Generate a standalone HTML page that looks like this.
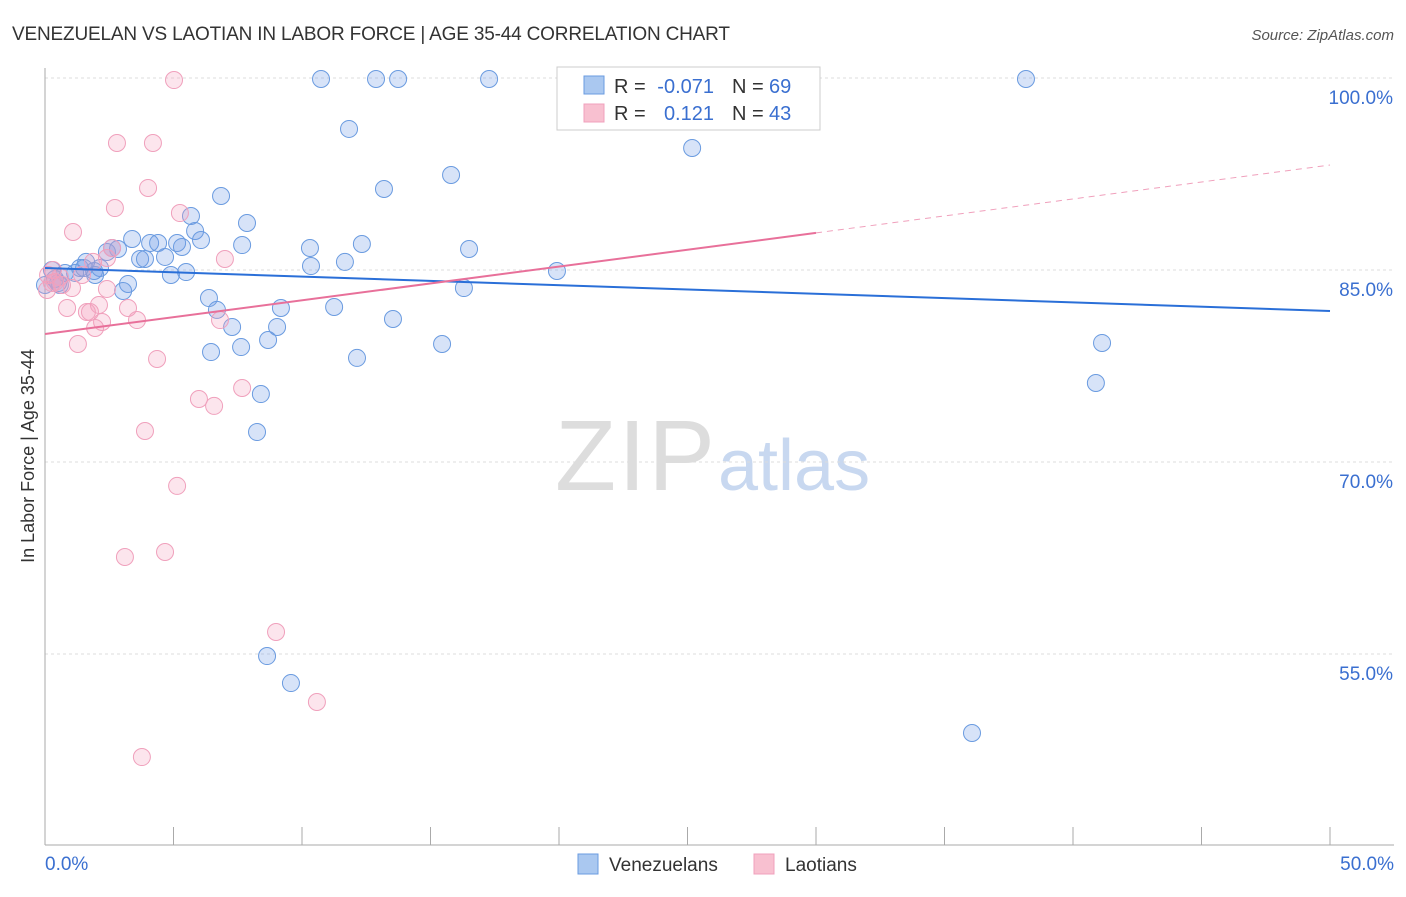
<!DOCTYPE html>
<html><head><meta charset="utf-8"><style>
body{margin:0;background:#fff;font-family:"Liberation Sans",sans-serif}
svg text{font-family:"Liberation Sans",sans-serif}
</style></head><body>
<svg width="1406" height="892">
<text x="12" y="40" font-size="19" fill="#333" textLength="718">VENEZUELAN VS LAOTIAN IN LABOR FORCE | AGE 35-44 CORRELATION CHART</text>
<text x="1394" y="40" font-size="15" fill="#555" font-style="italic" text-anchor="end">Source: ZipAtlas.com</text>
<text x="34" y="456" font-size="18" fill="#333" transform="rotate(-90 34 456)" text-anchor="middle">In Labor Force | Age 35-44</text>
<text x="555" y="490" font-size="100" fill="#ddd" textLength="160" font-family="Liberation Serif">ZIP</text>
<text x="718" y="490" font-size="72" fill="#c8d8f0">atlas</text>
<g id="grid"></g><g id="axes"></g><g id="marks"></g>
<g>
<rect x="557" y="67" width="263" height="63" fill="#fff" stroke="#ccc"/>
<rect x="584" y="76" width="20" height="18" fill="#aac8f0" stroke="#6a9be0"/>
<text x="614" y="93" font-size="20" fill="#333">R =</text>
<text x="714" y="93" font-size="20" fill="#3a6fd0" text-anchor="end">-0.071</text>
<text x="732" y="93" font-size="20" fill="#333">N =</text>
<text x="769" y="93" font-size="20" fill="#3a6fd0">69</text>
<rect x="584" y="104" width="20" height="18" fill="#f8c0d0" stroke="#f0a0bc"/>
<text x="614" y="120" font-size="20" fill="#333">R =</text>
<text x="714" y="120" font-size="20" fill="#3a6fd0" text-anchor="end">0.121</text>
<text x="732" y="120" font-size="20" fill="#333">N =</text>
<text x="769" y="120" font-size="20" fill="#3a6fd0">43</text>
</g>
<g>
<rect x="578" y="854" width="20" height="20" fill="#aac8f0" stroke="#6a9be0"/>
<text x="609" y="871" font-size="19" fill="#333">Venezuelans</text>
<rect x="754" y="854" width="20" height="20" fill="#f8c0d0" stroke="#f0a0bc"/>
<text x="785" y="871" font-size="19" fill="#333">Laotians</text>
</g>
</svg>
<script>
const yTicks=[100,85,70,55];
const yTickLabels=["100.0%","85.0%","70.0%","55.0%"];
const xTickLabels=["0.0%","50.0%"];
const venPx=[[321,79],[376,79],[398,79],[489,79],[1026,79],[349,129],[692,148],[451,175],[384,189],[221,196],[191,216],[247,223],[195,231],[132,239],[150,243],[158,243],[177,243],[201,240],[182,247],[242,245],[310,248],[362,244],[469,249],[118,249],[107,252],[140,259],[165,257],[145,259],[311,266],[345,262],[557,271],[171,275],[186,272],[100,268],[80,268],[94,271],[52,270],[65,273],[75,273],[58,283],[128,284],[123,291],[464,288],[209,298],[217,310],[281,308],[334,307],[232,327],[277,327],[393,319],[241,347],[268,340],[211,352],[357,358],[442,344],[1102,343],[1096,383],[261,394],[257,432],[267,656],[291,683],[972,733],[45,285],[60,285],[86,262],[112,248],[84,268],[55,279],[95,275]];
const laoPx=[[174,80],[713,80],[117,143],[153,143],[148,188],[115,208],[180,213],[73,232],[112,248],[225,259],[93,262],[107,258],[53,270],[60,277],[72,288],[107,289],[99,305],[67,308],[128,308],[87,312],[102,322],[137,320],[95,328],[220,320],[78,344],[157,359],[242,388],[199,399],[214,406],[145,431],[177,486],[125,557],[165,552],[276,632],[317,702],[142,757],[48,275],[55,282],[62,285],[47,290],[82,275],[90,312],[52,283]];
const venX=venPx.map(p=>+((p[0]-45)/25.7).toFixed(2));
const venY=venPx.map(p=>+(100-(p[1]-78)/12.8).toFixed(2));
const laoX=laoPx.map(p=>+((p[0]-45)/25.7).toFixed(2));
const laoY=laoPx.map(p=>+(100-(p[1]-78)/12.8).toFixed(2));
const venTrend=[85.16,81.8];
const laoTrend=[80.0,87.9,93.2];
const X=v=>45+v*25.7, Y=v=>78+(100-v)*12.8;
const NS="http://www.w3.org/2000/svg";
function mk(t,a,p){const e=document.createElementNS(NS,t);for(const k in a)e.setAttribute(k,a[k]);p.appendChild(e);return e;}
const grid=document.getElementById('grid'),axes=document.getElementById('axes'),marks=document.getElementById('marks');
yTicks.forEach((v,i)=>{
 const l=mk('line',{x1:45,x2:1394,y1:Y(v),y2:Y(v),stroke:'#ddd','stroke-dasharray':'3,3'},grid);
 
 
 const t=mk('text',{x:1393,y:Y(v)+26,'font-size':19,fill:'#3a6fd0','text-anchor':'end'},grid);
 t.textContent=yTickLabels[i];
 
 
});
mk('line',{x1:45,x2:45,y1:68,y2:845,stroke:'#aaa'},axes);
mk('line',{x1:45,x2:1394,y1:845,y2:845,stroke:'#aaa'},axes);
for(let i=0;i<=10;i++){const tk=mk('line',{x1:X(i*5),x2:X(i*5),y1:827,y2:845,stroke:'#aaa'},axes);
 
 }
[[0,'start',45],[1,'end',1394]].forEach(a=>{const t=mk('text',{x:a[2],y:870,'font-size':19,fill:'#3a6fd0','text-anchor':a[1]},axes);t.textContent=xTickLabels[a[0]];
 
 });
venX.forEach((x,i)=>{const c=mk('circle',{cx:X(x),cy:Y(venY[i]),r:8.5,fill:'rgba(110,155,230,0.28)',stroke:'#6a9be0','stroke-width':1},marks);
 
 });
laoX.forEach((x,i)=>{const c=mk('circle',{cx:X(x),cy:Y(laoY[i]),r:8.5,fill:'rgba(245,160,190,0.28)',stroke:'#f0a0bc','stroke-width':1},marks);
 
 });
let l1=mk('line',{x1:X(0),y1:Y(venTrend[0]),x2:X(50),y2:Y(venTrend[1]),stroke:'#2a6fd8','stroke-width':2},marks);


let l2=mk('line',{x1:X(0),y1:Y(laoTrend[0]),x2:X(30),y2:Y(laoTrend[1]),stroke:'#e8709a','stroke-width':2},marks);


let l3=mk('line',{x1:X(30),y1:Y(laoTrend[1]),x2:X(50),y2:Y(laoTrend[2]),stroke:'#f0a0bc','stroke-width':1,'stroke-dasharray':'6,5'},marks);


</script>
</body></html>
